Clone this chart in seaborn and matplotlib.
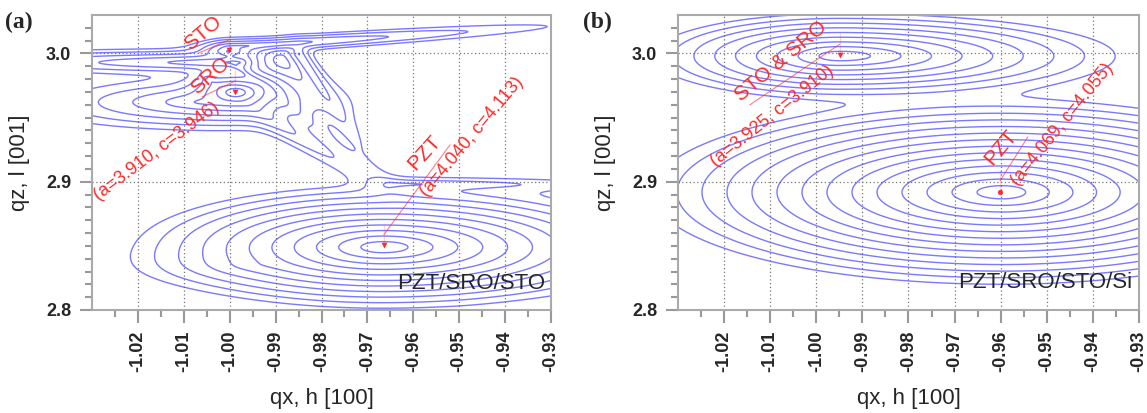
import numpy as np
import matplotlib
matplotlib.use('Agg')
import matplotlib.pyplot as plt
import seaborn as sns

# peak / streak components
# centre in data units, decay lengths in screen px, angle in screen degrees,
# n = how many contour levels the component reaches on its own
# panel (a): PZT/SRO/STO
a_x0 = [-0.9666, -0.9950, -0.9986, -1.0060, -1.0002, -1.0000, -0.9980, -0.9990, -1.0050, -0.9850, -0.9650]
a_y0 = [2.8490, 2.8350, 2.9697, 2.9620, 3.0016, 3.0050, 2.9930, 2.9920, 2.9800, 3.0000, 2.8980]
a_wf = [36, 60, 12, 40, 10, 115, 100, 35, 70, 50, 150]
a_wb = [32, 40, 12, 50, 10, 10, 8, 5, 5, 5, 10]
a_wp = [8, 8, 5, 8, 3, 3, 4, 3, 5, 5, 4]
a_ang = [0, 0, 0, 0, 0, 3.7, 180, -37.6, -31.6, -56, 0]
a_n = [11, 3, 8, 5, 5, 4, 5, 4, 4, 3, 2]

# panel (b): PZT/SRO/STO/Si
b_x0 = [-0.9949, -0.9597]
b_y0 = [2.9980, 2.8918]
b_wf = [44, 34]
b_wb = [30, 36]
b_wp = [6.8, 9.5]
b_ang = [0, 0]
b_n = [9, 14]

# marked peaks
a_peak_x = [-1.0002, -0.9988, -0.9664]
a_peak_y = [3.0028, 2.9700, 2.8510]
b_peak_x = [-0.9949, -0.9601]
b_peak_y = [2.9985, 2.8923]

x_ticks = [-1.02, -1.01, -1.00, -0.99, -0.98, -0.97, -0.96, -0.95, -0.94, -0.93]
y_ticks = [2.8, 2.9, 3.0]

SX, SY = 4600.0, 1285.0
N_LEV = 14

qx = np.linspace(-1.03, -0.93, 700)
qz = np.linspace(2.80, 3.03, 500)
QX, QZ = np.meshgrid(qx, qz)


def streak(x0, y0, wf, wb, wp, ang, n):
    u = (QX - x0) * SX
    v = (QZ - y0) * SY
    a = np.deg2rad(ang)
    s = u * np.cos(a) + v * np.sin(a)
    t = -u * np.sin(a) + v * np.cos(a)
    ws = np.where(s >= 0, wf, wb)
    r = np.sqrt((s / ws) ** 2 + (t / wp) ** 2)
    return 2.0 ** (n - N_LEV) * np.exp(-r)


def field(x0, y0, wf, wb, wp, ang, n):
    z = np.zeros_like(QX)
    for p in zip(x0, y0, wf, wb, wp, ang, n):
        z += streak(*p)
    return z


za = field(a_x0, a_y0, a_wf, a_wb, a_wp, a_ang, a_n)
zb = field(b_x0, b_y0, b_wf, b_wb, b_wp, b_ang, b_n)
levels = 2.0 ** np.arange(-N_LEV, 0)

sns.set_style('ticks')
plt.rcParams['font.family'] = ['Liberation Sans', 'DejaVu Sans']

fig = plt.figure(figsize=(11.47, 4.13), dpi=100)
ax_a = fig.add_axes([0.0802, 0.2494, 0.4002, 0.7143])
ax_b = fig.add_axes([0.5911, 0.2494, 0.4019, 0.7143])

red = '#ff2a2a'
for ax, z in [(ax_a, za), (ax_b, zb)]:
    ax.contour(QX, QZ, z, levels=levels, colors='#4d4dff', linewidths=1.0, alpha=0.75)
    ax.set_xlim(-1.03, -0.93)
    ax.set_ylim(2.80, 3.03)
    ax.set_xticks(x_ticks)
    ax.set_xticklabels([f'{t:.2f}' for t in x_ticks], rotation=90, fontsize=13, fontweight='bold')
    ax.set_yticks(y_ticks)
    ax.set_yticklabels([f'{t:.1f}' for t in y_ticks], fontsize=13, fontweight='bold')
    ax.set_xticks(np.arange(-1.025, -0.93, 0.01), minor=True)
    ax.set_yticks(np.arange(2.81, 3.03, 0.01), minor=True)
    ax.tick_params(which='major', length=9, width=1.5, color='#999999', pad=6)
    ax.tick_params(which='minor', length=5, width=1.5, color='#999999')
    ax.grid(True, which='major', linestyle=(0, (1, 2)), color='#777777', linewidth=0.9)
    ax.set_axisbelow(True)
    for sp in ax.spines.values():
        sp.set_color('#aaaaaa')
        sp.set_linewidth(1.5)
    ax.set_xlabel('qx, h [100]', fontsize=16)
    ax.set_ylabel('qz, l [001]', fontsize=16)
    ax.xaxis.set_label_coords(0.5, -0.265)
    ax.yaxis.set_label_coords(-0.135, 0.5)

# leader lines and peak markers
a_leads = [([-1.0067, -1.0002, -1.0002], [3.0004, 3.0183, 3.0028]),
           ([-1.0060, -0.9988, -0.9988], [2.9662, 2.9872, 2.9700]),
           ([-0.9520, -0.9664, -0.9664], [2.9288, 2.8666, 2.8510])]
for lx, ly in a_leads:
    sns.lineplot(x=lx, y=ly, sort=False, ax=ax_a, color=red, lw=0.8, alpha=0.6)
sns.scatterplot(x=a_peak_x, y=a_peak_y, ax=ax_a, color=red, s=14, marker='v', edgecolor=red, zorder=5)

b_leads = [([-1.0144, -0.9949, -0.9949], [2.9600, 3.0160, 2.9985]),
           ([-0.9541, -0.9601, -0.9601], [2.9350, 2.9094, 2.8923])]
for lx, ly in b_leads:
    sns.lineplot(x=lx, y=ly, sort=False, ax=ax_b, color=red, lw=0.8, alpha=0.6)
sns.scatterplot(x=b_peak_x[:1], y=b_peak_y[:1], ax=ax_b, color=red, s=14, marker='v', edgecolor=red, zorder=5)
sns.scatterplot(x=b_peak_x[1:], y=b_peak_y[1:], ax=ax_b, color=red, s=12, marker='o', edgecolor=red, zorder=5)

txt = dict(color=red, ha='center', va='center', rotation_mode='anchor')
ax_a.text(-1.0058, 3.0160, 'STO', fontsize=15, rotation=40, **txt)
ax_a.text(-1.0043, 2.9830, 'SRO', fontsize=15, rotation=42, **txt)
ax_a.text(-1.0158, 2.9234, '(a=3.910, c=3.946)', fontsize=13, rotation=37, **txt)
ax_a.text(-0.9575, 2.9226, 'PZT', fontsize=15, rotation=48, **txt)
ax_a.text(-0.9472, 2.9350, '(a=4.040, c=4.113)', fontsize=13, rotation=50, **txt)
ax_a.text(-0.9313, 2.8207, 'PZT/SRO/STO', fontsize=16, ha='right', va='center')

ax_b.text(-1.0077, 2.9942, 'STO & SRO', fontsize=15, rotation=40, **txt)
ax_b.text(-1.0096, 2.9514, '(a=3.925, c=3.910)', fontsize=13, rotation=38.5, **txt)
ax_b.text(-0.9600, 2.9270, 'PZT', fontsize=15, rotation=50, **txt)
ax_b.text(-0.9467, 2.9444, '(a=4.069, c=4.055)', fontsize=13, rotation=51, **txt)
ax_b.text(-0.9315, 2.8214, 'PZT/SRO/STO/Si', fontsize=16, ha='right', va='center')

fig.text(0.004, 0.945, '(a)', fontsize=17, fontweight='bold', family='Liberation Serif', va='center')
fig.text(0.508, 0.945, '(b)', fontsize=17, fontweight='bold', family='Liberation Serif', va='center')

fig.savefig('out.png', dpi=100)
